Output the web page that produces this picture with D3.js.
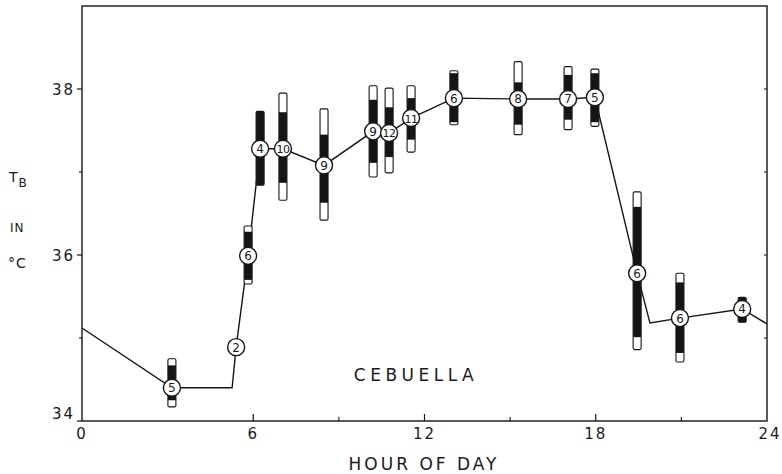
<!DOCTYPE html>
<html>
<head>
<meta charset="utf-8">
<script src="https://cdn.jsdelivr.net/npm/d3@7"></script>
<style>
  html, body { margin: 0; padding: 0; background: #fff; }
  svg { display: block; }
  text { font-family: "DejaVu Sans", "Liberation Sans", sans-serif; fill: #1a1a1a; }
</style>
</head>
<body>
<svg id="chart" width="782" height="474"></svg>
<script>
// Body temperature of Cebuella over the day: mean, sample size,
// inner band (black) and full extent (white tips) for each sampling hour.
const hours       = [3.15, 5.40, 5.82, 6.24, 7.04, 8.48, 10.20, 10.76, 11.53, 13.03, 15.28, 17.03, 17.97, 19.45, 20.95, 23.13];
const meanTemps   = [34.40, 34.89, 35.99, 37.28, 37.28, 37.08, 37.49, 37.47, 37.65, 37.89, 37.88, 37.88, 37.90, 35.78, 35.24, 35.35];
const sampleSizes = [5, 2, 6, 4, 10, 9, 9, 12, 11, 6, 8, 7, 5, 6, 6, 4];
const rangeLow    = [34.17, null, 35.65, 36.84, 36.66, 36.42, 36.94, 36.99, 37.24, 37.57, 37.45, 37.51, 37.55, 34.86, 34.71, 35.19];
const rangeHigh   = [34.75, null, 36.35, 37.73, 37.95, 37.76, 38.04, 38.01, 38.04, 38.22, 38.33, 38.27, 38.24, 36.76, 35.78, 35.49];
const innerLow    = [34.25, null, 35.70, 36.84, 36.87, 36.63, 37.11, 37.18, 37.39, 37.60, 37.57, 37.63, 37.60, 35.01, 34.82, 35.19];
const innerHigh   = [34.67, null, 36.28, 37.73, 37.72, 37.45, 37.87, 37.78, 37.89, 38.19, 38.08, 38.17, 38.19, 36.58, 35.67, 35.49];

// Hand-drawn trace connecting the means (with its lead-in and tail segments)
const traceHours = [0, 3.15, 5.26, 5.40, 5.82, 6.24, 7.04, 8.48, 10.20, 10.76, 11.53, 13.03, 15.28, 17.03, 17.97, 19.45, 19.90, 20.95, 23.13, 24];
const traceTemps = [35.12, 34.40, 34.40, 34.89, 35.99, 37.28, 37.28, 37.08, 37.49, 37.47, 37.65, 37.89, 37.88, 37.88, 37.90, 35.78, 35.18, 35.24, 35.35, 35.17];

const xTicks = [0, 6, 12, 18, 24];
const xMinorTicks = [3, 9, 15, 21];
const yTicks = [34, 36, 38];
const yMinorTicks = [35, 37];

const svg = d3.select("#chart");
const ink = "#151515";

const x = d3.scaleLinear().domain([0, 24]).range([82, 767]);
const y = d3.scaleLinear().domain([34, 39]).range([421, 6]);

// Frame
svg.append("rect")
  .attr("x", x(0)).attr("y", y(39))
  .attr("width", x(24) - x(0)).attr("height", y(34) - y(39))
  .attr("fill", "none").attr("stroke", ink).attr("stroke-width", 1.4);

// Bottom axis: inward ticks
const xAxis = svg.append("g").attr("transform", `translate(0,${y(34)})`);
xAxis.selectAll("line.major").data(xTicks.slice(1, -1)).join("line")
  .attr("x1", d => x(d)).attr("x2", d => x(d))
  .attr("y1", 0).attr("y2", -7)
  .attr("stroke", ink).attr("stroke-width", 1.2);
xAxis.selectAll("line.minor").data(xMinorTicks.slice(1)).join("line")
  .attr("x1", d => x(d)).attr("x2", d => x(d))
  .attr("y1", 0).attr("y2", -4)
  .attr("stroke", ink).attr("stroke-width", 1.1);
xAxis.selectAll("text").data(xTicks).join("text")
  .attr("x", d => x(d) + (d === 24 ? 3 : 0))
  .attr("y", 18)
  .attr("text-anchor", "middle")
  .attr("font-size", 15)
  .attr("letter-spacing", 2)
  .text(d => d);

// Left axis: outward ticks
const yAxis = svg.append("g").attr("transform", `translate(${x(0)},0)`);
yAxis.selectAll("line.major").data(yTicks).join("line")
  .attr("x1", 0).attr("x2", -5)
  .attr("y1", d => y(d)).attr("y2", d => y(d))
  .attr("stroke", ink).attr("stroke-width", 1.2);
yAxis.selectAll("line.minor").data(yMinorTicks).join("line")
  .attr("x1", 0).attr("x2", -3)
  .attr("y1", d => y(d)).attr("y2", d => y(d))
  .attr("stroke", ink).attr("stroke-width", 1.1);
yAxis.selectAll("text").data(yTicks).join("text")
  .attr("x", -7)
  .attr("y", d => y(d) + (d === 34 ? -2 : 6))
  .attr("text-anchor", "end")
  .attr("font-size", 15)
  .attr("letter-spacing", 2)
  .text(d => d);

// Right axis: small inward ticks
svg.append("g").selectAll("line").data([35, 36, 37, 38]).join("line")
  .attr("x1", x(24)).attr("x2", x(24) - 3)
  .attr("y1", d => y(d)).attr("y2", d => y(d))
  .attr("stroke", ink).attr("stroke-width", 1);

// Axis titles
const yTitle = svg.append("g").attr("font-size", 14);
const tb = yTitle.append("text").attr("x", 9).attr("y", 182);
tb.append("tspan").text("T");
tb.append("tspan").attr("dx", 1).attr("dy", 5).attr("font-size", 12).text("B");
yTitle.append("text").attr("x", 10).attr("y", 232).attr("font-size", 12).attr("letter-spacing", 1).text("IN");
yTitle.append("text").attr("x", 8).attr("y", 268).attr("letter-spacing", 1).text("°C");

svg.append("text")
  .attr("x", 424).attr("y", 470)
  .attr("text-anchor", "middle")
  .attr("font-size", 17)
  .attr("letter-spacing", 3)
  .text("HOUR OF DAY");

svg.append("text")
  .attr("x", 416).attr("y", 381)
  .attr("text-anchor", "middle")
  .attr("font-size", 17)
  .attr("letter-spacing", 4.5)
  .text("CEBUELLA");

// Connecting trace
const trace = traceHours.map((h, i) => [h, traceTemps[i]]);
svg.append("path")
  .datum(trace)
  .attr("d", d3.line().x(d => x(d[0])).y(d => y(d[1])))
  .attr("fill", "none").attr("stroke", ink).attr("stroke-width", 1.4);

// Bars
const pts = hours.map((h, i) => ({
  h, t: meanTemps[i], n: sampleSizes[i],
  rl: rangeLow[i], rh: rangeHigh[i], il: innerLow[i], ih: innerHigh[i]
}));
const barW = 8;
const bars = svg.append("g").selectAll("g").data(pts.filter(d => d.rl !== null)).join("g");
// full extent as an outlined white bar
bars.append("rect")
  .attr("x", d => x(d.h) - barW / 2)
  .attr("y", d => y(d.rh))
  .attr("width", barW)
  .attr("height", d => y(d.rl) - y(d.rh))
  .attr("rx", 1.5)
  .attr("fill", "#fff").attr("stroke", ink).attr("stroke-width", 1.1);
// inner band in black
bars.append("rect")
  .attr("x", d => x(d.h) - barW / 2)
  .attr("y", d => y(d.ih))
  .attr("width", barW)
  .attr("height", d => y(d.il) - y(d.ih))
  .attr("fill", ink);

// Mean markers with sample size
const marks = svg.append("g").selectAll("g").data(pts).join("g")
  .attr("transform", d => `translate(${x(d.h)},${y(d.t)})`);
marks.append("circle")
  .attr("r", 8.5)
  .attr("fill", "#fff").attr("stroke", ink).attr("stroke-width", 1.4);
marks.append("text")
  .attr("text-anchor", "middle")
  .attr("y", 4.5)
  .attr("font-size", d => d.n >= 10 ? 11 : 12)
  .attr("letter-spacing", d => d.n >= 10 ? -0.5 : 0)
  .text(d => d.n);
</script>
</body>
</html>
